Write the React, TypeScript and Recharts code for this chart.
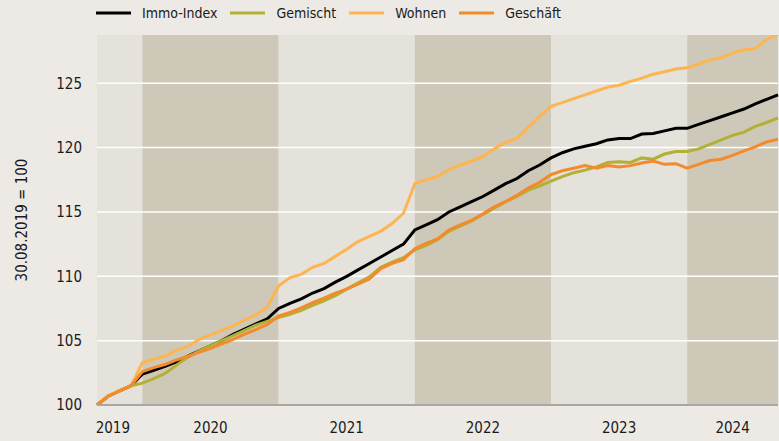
import React from 'react';
import { LineChart, Line, XAxis, YAxis, ReferenceArea, ReferenceLine } from 'recharts';

// Monthly index values, 30.08.2019 = 100 (Aug 2019 .. Aug 2024)
const immoIndex = [
  100.0, 100.7, 101.1, 101.5, 102.4, 102.7, 103.0, 103.35, 103.8, 104.2,
  104.6, 105.0, 105.5, 105.9, 106.3, 106.7, 107.5, 107.9, 108.25, 108.7,
  109.05, 109.55, 110.0, 110.5, 111.0, 111.5, 112.0, 112.5, 113.6, 114.0,
  114.4, 115.0, 115.4, 115.8, 116.2, 116.7, 117.2, 117.6, 118.2, 118.65,
  119.2, 119.6, 119.9, 120.1, 120.3, 120.6, 120.7, 120.7, 121.05, 121.1,
  121.3, 121.5, 121.5, 121.8, 122.1, 122.4, 122.7, 123.0, 123.4, 123.75,
  124.1,
];
const gemischt = [
  100.0, 100.7, 101.1, 101.5, 101.7, 102.05, 102.45, 103.1, 103.7, 104.2,
  104.6, 105.0, 105.4, 105.8, 106.2, 106.5, 106.8, 107.05, 107.35, 107.75,
  108.1, 108.5, 109.0, 109.5, 109.95, 110.7, 111.1, 111.45, 112.05, 112.4,
  112.85, 113.5, 113.9, 114.3, 114.8, 115.3, 115.8, 116.2, 116.7, 117.0,
  117.4, 117.75, 118.05, 118.25, 118.5, 118.85, 118.9, 118.85, 119.2, 119.1,
  119.5, 119.7, 119.7, 119.9, 120.25, 120.6, 120.95, 121.2, 121.65, 121.95,
  122.3,
];
const wohnen = [
  100.0, 100.75, 101.1, 101.5, 103.3, 103.55, 103.8, 104.25, 104.55, 105.1,
  105.45, 105.8, 106.15, 106.6, 107.0, 107.6, 109.25, 109.9, 110.15, 110.7,
  111.0, 111.55, 112.1, 112.7, 113.1, 113.5, 114.1, 114.9, 117.2, 117.5,
  117.75, 118.3, 118.65, 118.96, 119.3, 119.9, 120.4, 120.7, 121.6, 122.4,
  123.2, 123.5, 123.8, 124.1, 124.4, 124.7, 124.85, 125.15, 125.4, 125.7,
  125.9, 126.1, 126.2, 126.5, 126.8, 127.0, 127.35, 127.6, 127.7, 128.4,
  128.8,
];
const geschaeft = [
  100.0, 100.7, 101.1, 101.5, 102.6, 102.9, 103.15, 103.5, 103.8, 104.1,
  104.4, 104.75, 105.1, 105.5, 105.85, 106.25, 106.9, 107.2, 107.55, 107.95,
  108.3, 108.7, 109.0, 109.4, 109.8, 110.6, 111.0, 111.3, 112.15, 112.55,
  112.9, 113.6, 114.0, 114.35, 114.85, 115.4, 115.8, 116.3, 116.85, 117.3,
  117.9, 118.2, 118.4, 118.6, 118.4, 118.6, 118.5, 118.6, 118.8, 118.95,
  118.7, 118.75, 118.4, 118.7, 119.0, 119.1, 119.4, 119.75, 120.05, 120.45,
  120.65,
];

// Years: band boundaries in months since Aug 2019, label positions
const yearLabels = ['2019', '2020', '2021', '2022', '2023', '2024'];
const yearStart = [0, 4, 16, 28, 40, 52];
const yearEnd = [4, 16, 28, 40, 52, 60];
const yearTickPos = [1.4, 10, 22, 34, 46, 56];
const yearShaded = [false, true, false, true, false, true];

const yTicks = [100, 105, 110, 115, 120, 125];
const gridValues = [105, 110, 115, 120, 125];

const series = [
  { key: 'immo', name: 'Immo-Index', color: '#000000', values: immoIndex },
  { key: 'gem', name: 'Gemischt', color: '#B3B036', values: gemischt },
  { key: 'woh', name: 'Wohnen', color: '#FDB552', values: wohnen },
  { key: 'ges', name: 'Geschäft', color: '#F38A2B', values: geschaeft },
];

const data = immoIndex.map((_, i) => ({
  m: i,
  immo: immoIndex[i],
  gem: gemischt[i],
  woh: wohnen[i],
  ges: geschaeft[i],
}));

const FONT = "'Liberation Sans Narrow', 'Arial Narrow', 'DejaVu Sans Condensed', Roboto, sans-serif";
const BG = '#EDEAE5';
const LIGHT = '#E4E2DB';
const DARK = '#CEC8B8';

const yLabel = (props: any) => {
  const vb = props.viewBox || {};
  const cy = (vb.y || 0) + (vb.height || 0) / 2;
  const cx = 22;
  return (
    <text
      x={cx}
      y={cy}
      transform={`rotate(-90 ${cx} ${cy})`}
      textAnchor="middle"
      dominantBaseline="central"
      fontFamily={FONT}
      fontSize={15}
      fill="#1a1a1a"
    >
      30.08.2019 = 100
    </text>
  );
};

export default function App() {
  return (
    <div style={{ position: 'absolute', left: 0, top: 0, width: 779, height: 441, background: BG, overflow: 'hidden' }}>
      <div
        style={{
          position: 'absolute',
          left: 96,
          top: 0,
          height: 26,
          display: 'flex',
          alignItems: 'center',
          fontFamily: FONT,
          fontSize: 14,
          color: '#1a1a1a',
          whiteSpace: 'nowrap',
        }}
      >
        {series.map((s) => (
          <div key={s.key} style={{ display: 'flex', alignItems: 'center', marginRight: 13 }}>
            <svg width={35} height={4} style={{ display: 'block' }}>
              <line x1={0} y1={2} x2={35} y2={2} stroke={s.color} strokeWidth={3} />
            </svg>
            <span style={{ marginLeft: 11 }}>{s.name}</span>
          </div>
        ))}
      </div>
      <LineChart width={779} height={441} data={data} margin={{ top: 35, right: 1, bottom: 0, left: 0 }}>
        <XAxis
          dataKey="m"
          type="number"
          domain={[0, 60]}
          ticks={yearTickPos}
          tickFormatter={(v: number) => yearLabels[yearTickPos.indexOf(v)] ?? ''}
          interval={0}
          height={36}
          tickLine={false}
          tickSize={0}
          tickMargin={17}
          axisLine={{ stroke: '#A8A7A3', strokeWidth: 2 }}
          tick={{ fontFamily: FONT, fontSize: 15, fill: '#1a1a1a' }}
        />
        <YAxis
          type="number"
          domain={[100, 128.75]}
          ticks={yTicks}
          width={97}
          tickLine={false}
          tickSize={0}
          tickMargin={15}
          axisLine={false}
          allowDataOverflow
          tick={{ fontFamily: FONT, fontSize: 15, fill: '#1a1a1a' }}
          label={yLabel}
        />
        {yearLabels.map((y, i) => (
          <ReferenceArea
            key={'band' + y}
            x1={yearStart[i]}
            x2={yearEnd[i]}
            fill={yearShaded[i] ? DARK : LIGHT}
            fillOpacity={1}
            stroke="none"
            ifOverflow="hidden"
          />
        ))}
        {gridValues.map((g) => (
          <ReferenceLine key={'g' + g} y={g} stroke="#FFFFFF" strokeWidth={1.5} />
        ))}
        {series.map((s) => (
          <Line
            key={s.key}
            dataKey={s.key}
            name={s.name}
            type="linear"
            stroke={s.color}
            strokeWidth={3}
            dot={false}
            activeDot={false}
            isAnimationActive={false}
          />
        ))}
      </LineChart>
    </div>
  );
}
